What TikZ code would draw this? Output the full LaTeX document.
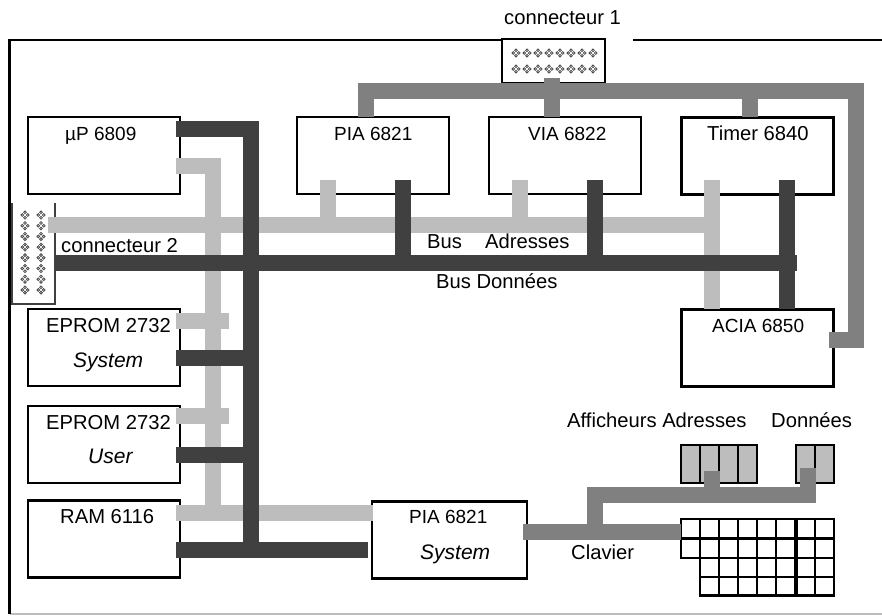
\documentclass[tikz,border=0pt]{standalone}
\usepackage{fontspec}
\setmainfont{Liberation Sans}
\definecolor{busD}{HTML}{404040}
\definecolor{busA}{HTML}{BDBDBD}
\definecolor{busM}{HTML}{808080}
\tikzset{
  chip/.style={draw=black,line width=2.6pt,fill=white,rectangle,inner sep=0pt,minimum width=#1,minimum height=77pt},
  chip/.default=152pt,
  txt/.style={anchor=base west,inner sep=0pt,font=\fontsize{20.2}{22}\selectfont},
  txts/.style={txt,font=\fontsize{19}{22}\selectfont},
  txti/.style={txt,font=\fontsize{21}{22}\selectfont\itshape},
  dbus/.style={draw=busD,line width=16pt,line cap=butt,line join=miter},
  abus/.style={draw=busA,line width=16pt,line cap=butt,line join=miter},
  mbus/.style={draw=busM,line width=16pt,line cap=butt,line join=miter},
  frame/.style={draw=black,line width=2.6pt},
  cell/.style={draw=black,line width=2.8pt},
  disp/.style={draw=black,line width=2.8pt,fill=busA,rectangle,inner sep=0pt,minimum height=38pt}
}
\newcommand{\pinmark}[2]{%
  \fill[busD] (#1-2.7,#2) circle (1.9pt) (#1+2.7,#2) circle (1.9pt) (#1,#2-2.7) circle (1.9pt) (#1,#2+2.7) circle (1.9pt);%
  \fill[busM!60] (#1-2.7,#2) circle (0.8pt) (#1+2.7,#2) circle (0.8pt) (#1,#2-2.7) circle (0.8pt) (#1,#2+2.7) circle (0.8pt);}
\begin{document}
\begin{tikzpicture}[x=1pt,y=-1pt]
\useasboundingbox (0,0) rectangle (882,615);
\fill[white] (0,0) rectangle (882,615);
% frame
\coordinate (fa) at (501,40); \coordinate (fb) at (9.5,40); \coordinate (fc) at (9.5,614);
\coordinate (fd) at (882,614); \coordinate (fe) at (633,40); \coordinate (ff) at (882,40);
\draw[busA,line width=2pt] (fc) -- (fd);
\draw[frame] (fa) -- (fb) -- (fc);
\draw[frame] (fe) -- (ff);
% chips
\node[chip] (up) at (104,155.5) {};
\node[chip] (pia) at (373,155.5) {};
\node[chip] (via) at (565,155.5) {};
\node[chip] (tim) at (757.5,156) {};
\node[chip] (acia) at (757.5,348) {};
\node[chip] (ep1) at (104,347.5) {};
\node[chip] (ep2) at (104,444.5) {};
\node[chip] (ram) at (104,539) {};
\node[chip=155pt] (pias) at (449.5,540) {};
% connector 1
\node[draw=black,line width=2.6pt,fill=white,rectangle,inner sep=0pt,minimum width=103pt,minimum height=44pt] (con1) at (553.5,61) {};
\foreach \i in {0,...,7} { \pinmark{516+11*\i}{53} \pinmark{516+11*\i}{69} }
% connector 2
\coordinate (c2a) at (12,203); \coordinate (c2b) at (12,304); \coordinate (c2c) at (55,304); \coordinate (c2d) at (55,203);
\draw[busD,line width=2.4pt] (c2a) -- (c2b) -- (c2c) -- (c2d);
\foreach \i in {0,...,7} { \pinmark{25}{215+10.7*\i} \pinmark{41}{215+10.7*\i} }
% displays and keyboard
\node[disp,minimum width=76pt] (dA) at (719,464) {};
\node[disp,minimum width=38pt] (dD) at (815,464) {};
\foreach \x in {700,719,738} \draw[cell] (\x,445) -- (\x,483);
\draw[cell] (815,445) -- (815,483);
\coordinate (kb) at (681,532);
\foreach \y in {519,538.5,558} \draw[cell] (680,\y) -- (835,\y);
\foreach \y in {577,595.5} \draw[cell] (699,\y) -- (835,\y);
\foreach \x in {681} \draw[cell] (\x,518) -- (\x,559);
\foreach \x in {700,719,738,757,776,815,834} \draw[cell] (\x,518) -- (\x,596.5);
\draw[black,line width=3.6pt] (796,518) -- (796,596.5);
% medium bus
\coordinate (m1) at (366,117); \coordinate (m2) at (552,117); \coordinate (m3) at (750,117);
\coordinate (mc) at (552,78); \coordinate (mac) at (829,340);
\draw[mbus] (m1) -- (366,91) -- (856,91) -- (856,340) -- (mac);
\draw[mbus] (mc) -- (m2);
\draw[mbus] (750,91) -- (m3);
\coordinate (ms) at (523,532);
\draw[mbus] (ms) -- (kb);
\draw[mbus] (595,532) -- (595,495) -- (816,495);
\draw[mbus] (712,503) -- (712,471);
\draw[mbus] (808,503) -- (808,468);
% address bus
\coordinate (aUp) at (176,166); \coordinate (aRam) at (176,513); \coordinate (aPs) at (373,513);
\coordinate (a1) at (176,321); \coordinate (a1e) at (229,321);
\coordinate (a2) at (176,416); \coordinate (a2e) at (229,416);
\coordinate (aC) at (48,225);
\draw[abus] (aUp) -- (213,166) -- (213,521);
\draw[abus] (aRam) -- (aPs);
\draw[abus] (a1) -- (a1e);
\draw[abus] (a2) -- (a2e);
\draw[abus] (aC) -- (720,225);
\draw[abus] (328,180) -- (328,233);
\draw[abus] (520,180) -- (520,233);
\draw[abus] (712,180) -- (712,309);
% data bus
\coordinate (dUp) at (176,129); \coordinate (dRam) at (176,550); \coordinate (dPs) at (368,550);
\coordinate (d1) at (176,358); \coordinate (d2) at (176,455); \coordinate (dC) at (54,263);
\draw[dbus] (dUp) -- (251,129) -- (251,558);
\draw[dbus] (dRam) -- (dPs);
\draw[dbus] (d1) -- (259,358);
\draw[dbus] (d2) -- (259,455);
\draw[dbus] (dC) -- (797,263);
\draw[dbus] (403,180) -- (403,271);
\draw[dbus] (595,180) -- (595,271);
\draw[dbus] (787,180) -- (787,309);
% labels
\node[txt] (t1) at (504,25) {connecteur 1};
\node[txt] (t2) at (61,252) {connecteur 2};
\node[txts] (t3) at (65,140) {µP 6809};
\node[txts] (t4) at (334,140) {PIA 6821};
\node[txts] (t5) at (528,140) {VIA 6822};
\node[txt] (t6) at (707,140) {Timer 6840};
\node[txts] (t7) at (712,332) {ACIA 6850};
\node[txt] (t8) at (46,332) {EPROM 2732};
\node[txti] (t9) at (73,367.5) {System};
\node[txt] (t10) at (46,429) {EPROM 2732};
\node[txti] (t11) at (88,463.5) {User};
\node[txt] (t12) at (60,523) {RAM 6116};
\node[txts] (t13) at (409,523) {PIA 6821};
\node[txti] (t14) at (420,559) {System};
\node[txt] (t15) at (571,559) {Clavier};
\node[txt] (t16) at (427,248) {Bus};
\node[txt] (t17) at (485,248) {Adresses};
\node[txt] (t18) at (436,288) {Bus Données};
\node[txt] (t19) at (567,427) {Afficheurs Adresses};
\node[txt] (t20) at (771,427) {Données};
\end{tikzpicture}
\end{document}
